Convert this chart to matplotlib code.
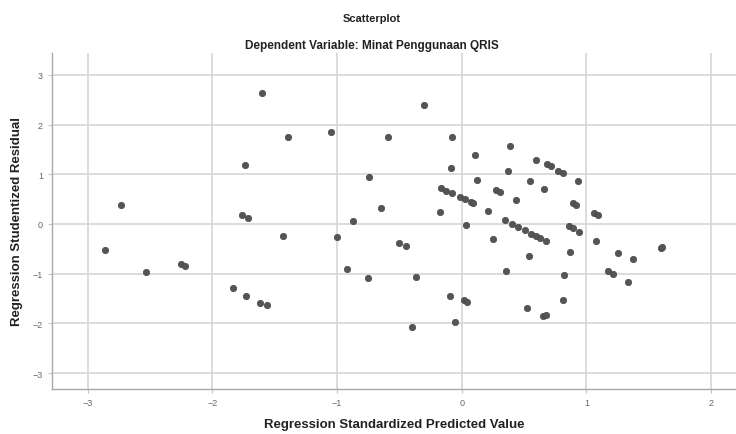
import matplotlib.pyplot as plt

plt.rcParams['font.family'] = ['Liberation Sans', 'DejaVu Sans']

# Regression Standardized Predicted Value
predicted = [-1.60, -1.39, -1.05, -0.59, -1.74, -0.74, -2.73, -1.76, -1.71, -0.65,
             -0.87, -1.43, -1.00, -2.86, -2.53, -2.25, -2.22, -0.92, -0.75, -1.83,
             -1.73, -1.62, -1.56, -0.30, -0.075, 0.385, 0.107, -0.086, 0.37, 0.60,
             0.687, 0.72, 0.775, 0.815, 0.935, 0.125, 0.548, 0.66, -0.166, -0.126,
             -0.08, -0.014, 0.027, 0.072, 0.093, 0.275, 0.307, 0.435, -0.17, 0.21,
             0.895, 0.92, 1.06, 1.095, 0.035, 0.347, 0.40, 0.455, 0.51, 0.56,
             0.60, 0.63, 0.68, 0.255, 0.863, 0.895, 0.943, 1.08, 0.54, 0.87,
             1.256, 1.37, 1.60, 1.61, -0.50, -0.45, -0.37, 0.355, 0.82, 1.17,
             1.21, 1.33, -0.09, 0.02, 0.04, 0.52, 0.655, 0.68, 0.81, -0.40,
             -0.054]

# Regression Studentized Residual
residual = [2.64, 1.76, 1.85, 1.76, 1.19, 0.94, 0.39, 0.19, 0.12, 0.32,
            0.07, -0.24, -0.26, -0.52, -0.97, -0.80, -0.85, -0.91, -1.09, -1.29,
            -1.44, -1.58, -1.62, 2.40, 1.76, 1.57, 1.39, 1.12, 1.07, 1.29,
            1.21, 1.16, 1.07, 1.03, 0.87, 0.88, 0.87, 0.70, 0.72, 0.66,
            0.62, 0.55, 0.50, 0.45, 0.42, 0.69, 0.64, 0.48, 0.24, 0.26,
            0.42, 0.38, 0.22, 0.19, -0.03, 0.09, 0.0, -0.07, -0.13, -0.20,
            -0.24, -0.29, -0.35, -0.31, -0.05, -0.09, -0.17, -0.34, -0.65, -0.56,
            -0.58, -0.70, -0.49, -0.47, -0.38, -0.45, -1.07, -0.95, -1.03, -0.95,
            -1.00, -1.17, -1.44, -1.52, -1.56, -1.69, -1.86, -1.84, -1.53, -2.07,
            -1.97]

x_ticks = [-3, -2, -1, 0, 1, 2]
y_ticks = [-3, -2, -1, 0, 1, 2, 3]

fig = plt.figure(figsize=(7.36, 4.35), dpi=100)
ax = fig.add_axes([0.0707, 0.1034, 0.9293, 0.7736])

ax.scatter(predicted, residual, s=21, color='#555555', edgecolors='#474747',
           linewidths=0.5, zorder=3)

ax.set_xlim(-3.285, 2.20)
ax.set_ylim(-3.32, 3.45)
ax.set_xticks(x_ticks)
ax.set_yticks(y_ticks)
ax.grid(True, color='#d6d6d6', linewidth=1.2, zorder=0)
ax.set_axisbelow(True)

for side in ['top', 'right']:
    ax.spines[side].set_visible(False)
for side in ['left', 'bottom']:
    ax.spines[side].set_color('#a8a8a8')
    ax.spines[side].set_linewidth(1.0)

ax.tick_params(length=3, color='#c4c4c4', labelsize=6.5, labelcolor='#666666')

ax.set_xlabel('Regression Standardized Predicted Value', fontsize=9.5,
              fontweight='bold', color='#222222', labelpad=8)
ax.set_ylabel('Regression Studentized Residual', fontsize=9.5,
              fontweight='bold', color='#222222', labelpad=7)

fig.text(0.505, 0.957, 'Scatterplot', ha='center', va='center', fontsize=8,
         fontweight='bold', color='#222222')
fig.text(0.505, 0.895, 'Dependent Variable: Minat Penggunaan QRIS', ha='center',
         va='center', fontsize=8.5, fontweight='bold', color='#222222')

fig.savefig('out.png', dpi=100)
